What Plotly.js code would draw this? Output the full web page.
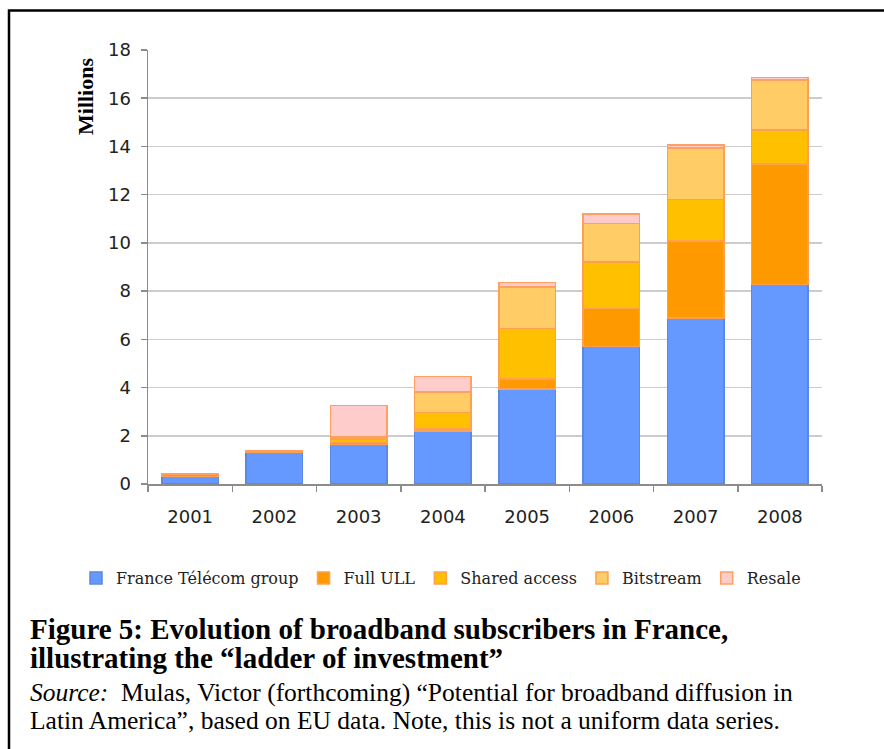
<!DOCTYPE html>
<html>
<head>
<meta charset="utf-8">
<script src="https://cdn.plot.ly/plotly-3.0.1.min.js"></script>
<style>
html,body{margin:0;padding:0;background:#fff;}
#chart{width:884px;height:749px;}
</style>
</head>
<body>
<div id="chart"></div>
<script>
const years = ['2001','2002','2003','2004','2005','2006','2007','2008'];
const franceTelecom = [0.31, 1.31, 1.63, 2.20, 3.93, 5.70, 6.89, 8.27];
const fullULL       = [0.08, 0.05, 0.09, 0.09, 0.43, 1.58, 3.18, 5.01];
const sharedAccess  = [0.01, 0.01, 0.14, 0.67, 2.09, 1.92, 1.73, 1.40];
const bitstream     = [0.01, 0.01, 0.08, 0.85, 1.72, 1.60, 2.13, 2.08];
const resale        = [0.01, 0.01, 1.32, 0.64, 0.18, 0.40, 0.14, 0.11];
const seriesNames = ['France Télécom group','Full ULL','Shared access','Bitstream','Resale'];
const yTickVals = [0,2,4,6,8,10,12,14,16,18];

const W = 884, H = 749;
const M = {l:148, r:62, t:50, b:265, autoexpand:false};
const PW = W - M.l - M.r, PH = H - M.t - M.b;
const px = x => (x - M.l) / PW;
const py = y => (H - M.b - y) / PH;

const fills = ['#6699FF','#FF9900','#FFC000','#FFCC66','#FFCCCC'];
const edges = ['#5B88E0','#FFA050','#FFA050','#FFA050','#FFA060'];
const vals = [franceTelecom, fullULL, sharedAccess, bitstream, resale];

const traces = vals.map((v,i) => ({
  type:'bar', x:years, y:v, name:seriesNames[i],
  marker:{color:fills[i], line:{color:edges[i], width:1.5}}
}));

const serif = 'Liberation Serif, Times New Roman, serif';
const layout = {
  width:W, height:H, margin:M,
  paper_bgcolor:'#fff', plot_bgcolor:'#fff',
  barmode:'stack', bargap:0.33,
  showlegend:true,
  legend:{orientation:'h', traceorder:'normal', xref:'paper', yref:'paper',
          x:px(76), xanchor:'left', y:py(578), yanchor:'middle',
          font:{family:'DejaVu Serif, serif', size:16, color:'#222'}, itemwidth:30, tracegroupgap:0},
  xaxis:{type:'category', showline:true, linecolor:'#8c8c8c', linewidth:1.5, automargin:false,
         ticks:'outside', tickson:'boundaries', ticklen:6, tickcolor:'#8c8c8c', tickwidth:1.5,
         tickfont:{family:'DejaVu Sans, sans-serif', size:18, color:'#222'}, ticklabelstandoff:16,
         tickangle:0, showgrid:false, zeroline:false},
  yaxis:{range:[0,18], tickvals:yTickVals, showline:true, linecolor:'#8c8c8c', linewidth:1.5, automargin:false,
         ticks:'outside', ticklen:6, tickcolor:'#8c8c8c', tickwidth:1.5,
         gridcolor:'#cccccc', gridwidth:1.5, zeroline:false,
         tickfont:{family:'DejaVu Sans, sans-serif', size:18, color:'#222'}, ticklabelstandoff:6},
  annotations:[
    {text:'<b>Millions</b>', xref:'paper', yref:'paper', x:px(85), y:py(97), textangle:-90,
     showarrow:false, xanchor:'center', yanchor:'middle', font:{family:serif, size:22, color:'#000'}},
    {text:'<b>Figure 5: Evolution of broadband subscribers in France,</b>', xref:'paper', yref:'paper',
     x:px(28), y:py(629), xanchor:'left', yanchor:'middle', showarrow:false,
     font:{family:serif, size:29, color:'#000'}},
    {text:'<b>illustrating the \u201cladder of investment\u201d</b>', xref:'paper', yref:'paper',
     x:px(28), y:py(658), xanchor:'left', yanchor:'middle', showarrow:false,
     font:{family:serif, size:29, color:'#000'}},
    {text:'<i>Source:</i>  Mulas, Victor (forthcoming) \u201cPotential for broadband diffusion in', xref:'paper', yref:'paper',
     x:px(28), y:py(692), xanchor:'left', yanchor:'middle', showarrow:false,
     font:{family:serif, size:25.5, color:'#000'}},
    {text:'Latin America\u201d, based on EU data. Note, this is not a uniform data series.', xref:'paper', yref:'paper',
     x:px(28), y:py(720), xanchor:'left', yanchor:'middle', showarrow:false,
     font:{family:serif, size:25.5, color:'#000'}}
  ],
  shapes:[
    {type:'rect', xref:'paper', yref:'paper', x0:px(9), x1:px(900), y0:py(10.5), y1:py(770),
     line:{color:'#000', width:2.5}, fillcolor:'rgba(0,0,0,0)', layer:'above'}
  ]
};

Plotly.newPlot('chart', traces, layout, {displayModeBar:false, staticPlot:true});
</script>
</body>
</html>
